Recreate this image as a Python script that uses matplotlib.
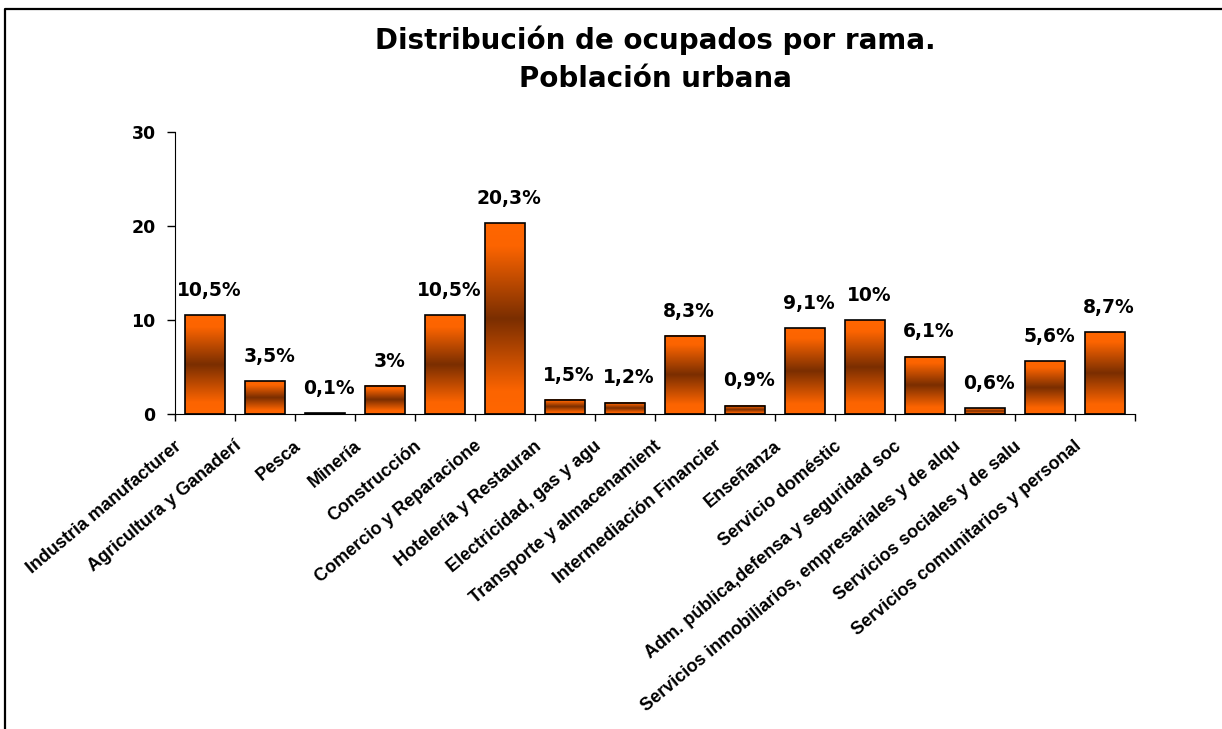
import numpy as np
import matplotlib
matplotlib.use('Agg')
import matplotlib.pyplot as plt
import matplotlib.transforms as mtransforms
from matplotlib.colors import LinearSegmentedColormap
from matplotlib.lines import Line2D

ramas = ['Industria manufacturer', 'Agricultura y Ganaderí', 'Pesca', 'Minería',
         'Construcción', 'Comercio y Reparacione', 'Hotelería y Restauran',
         'Electricidad, gas y agu', 'Transporte y almacenamient',
         'Intermediación Financier', 'Enseñanza', 'Servicio doméstic',
         'Adm. pública,defensa y seguridad soc',
         'Servicios inmobiliarios, empresariales y de alqu',
         'Servicios sociales y de salu', 'Servicios comunitarios y personal']
ocupados = [10.5, 3.5, 0.1, 3, 10.5, 20.3, 1.5, 1.2, 8.3, 0.9, 9.1, 10, 6.1, 0.6, 5.6, 8.7]
etiquetas = ['10,5%', '3,5%', '0,1%', '3%', '10,5%', '20,3%', '1,5%', '1,2%', '8,3%',
             '0,9%', '9,1%', '10%', '6,1%', '0,6%', '5,6%', '8,7%']

W, H = 1222, 729
fig = plt.figure(figsize=(W / 100, H / 100), dpi=100)
ax = fig.add_axes([175 / W, 1 - 414 / H, 960 / W, 282 / H])

x = np.arange(len(ocupados))
bars = ax.bar(x, ocupados, width=0.66, facecolor='none', edgecolor='black',
              linewidth=1.2, zorder=3)

# --- gradient fill: orange -> brown -> orange ---
cmap = LinearSegmentedColormap.from_list(
    'naranja', [(0, '#ff6600'), (0.12, '#fc6400'), (0.5, '#7a2e00'),
                (0.88, '#fc6400'), (1, '#ff6600')])
grad = np.linspace(0, 1, 256).reshape(-1, 1)
for b in bars:
    x0, w, h = b.get_x(), b.get_width(), b.get_height()
    ax.imshow(grad, cmap=cmap, extent=[x0, x0 + w, 0, h], aspect='auto',
              interpolation='bilinear', zorder=2)

for xi, v, t in zip(x, ocupados, etiquetas):
    ax.annotate(t, (xi, v), xytext=(3, 11), textcoords='offset points',
                ha='center', va='bottom', fontsize=13.5, fontweight='bold',
                family='DejaVu Sans')

ax.set_xlim(-0.5, len(ocupados) - 0.5)
ax.set_ylim(0, 30)
ax.set_yticks([0, 10, 20, 30])
ax.tick_params(axis='y', direction='out', length=6, width=1, pad=8)
for lab in ax.get_yticklabels():
    lab.set_fontweight('bold')
    lab.set_fontsize(12.5)

# ticks between categories, labels at centres
ax.set_xticks(np.arange(-0.5, len(ocupados)), minor=False)
ax.set_xticklabels([])
ax.tick_params(axis='x', which='major', direction='out', length=5, width=1)
ax.set_xticks(x, minor=True)
ax.set_xticklabels(ramas, minor=True, rotation=40, ha='right', va='center',
                   rotation_mode='anchor', fontsize=13, fontweight='bold',
                   family='Liberation Sans')
ax.tick_params(axis='x', which='minor', length=0, pad=0)
offset = mtransforms.ScaledTranslation(-26 / 100, -30 / 100, fig.dpi_scale_trans)
for lab in ax.get_xticklabels(minor=True):
    lab.set_transform(lab.get_transform() + offset)

for s in ['top', 'right']:
    ax.spines[s].set_visible(False)
ax.set_xlim(-0.5, len(ocupados) - 0.5)
ax.set_ylim(0, 30)

fig.text(655 / W, 1 - 59 / H, 'Distribución de ocupados por rama.\nPoblación urbana',
         ha='center', va='center', fontsize=20, fontweight='bold',
         linespacing=1.45, family='DejaVu Sans')

# chart frame (top and left edges)
fig.add_artist(Line2D([4.5 / W, 4.5 / W, 1], [0, 1 - 8.5 / H, 1 - 8.5 / H],
                      color='black', linewidth=1.6, transform=fig.transFigure))

fig.savefig('out.png', dpi=100)
